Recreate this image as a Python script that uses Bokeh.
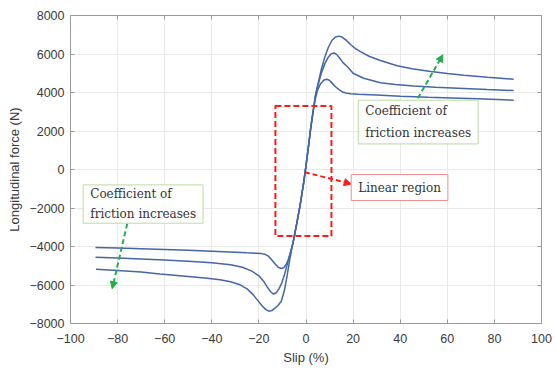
from bokeh.plotting import figure
from bokeh.models import (Range1d, LinearAxis, FixedTicker, Label, BoxAnnotation,
                          Arrow, NormalHead, CustomJSTickFormatter)
from bokeh.embed import file_html
from bokeh.resources import INLINE

# ---- data ----
x_ticks = [-100, -80, -60, -40, -20, 0, 20, 40, 60, 80, 100]
y_ticks = [-8000, -6000, -4000, -2000, 0, 2000, 4000, 6000, 8000]

slip_low = [-89.4, -80, -70, -60, -50, -40, -30, -25, -21, -19, -17.5, -16, -14.5, -13,
            -11.8, -10.5, -9.5, -8.5, -7.5, -6.5, -5.5, -4, -2.5, -1, 0, 1, 2, 3, 4,
            5, 6.2, 7.5, 8.8, 9.9, 11, 12.5, 14, 15.5, 17, 19, 22, 30, 40, 52, 62, 73, 88.2]
force_low = [-4050, -4080, -4120, -4160, -4200, -4250, -4300, -4330, -4350, -4370, -4400,
             -4500, -4700, -4920, -5080, -5140, -5100, -4950, -4680, -4300, -3800, -2850,
             -1850, -700, 200, 1150, 2150, 3000, 3700, 4150, 4460, 4640, 4690, 4640, 4500,
             4300, 4150, 4030, 3970, 3935, 3910, 3870, 3810, 3750, 3710, 3670, 3600]

slip_mid = [-89.4, -80, -70, -60, -50, -40, -32, -27, -23, -20, -18, -16.5, -15, -13.8,
            -12.6, -11.5, -10.3, -9, -7.8, -6.6, -5.5, -4, -2.5, -1, 0, 1, 2, 3, 4, 5,
            6.5, 8, 9.5, 10.8, 11.9, 13, 14.3, 15.7, 17.5, 20, 24.5, 31.6, 38, 45.7, 55,
            67, 77, 88.2]
force_mid = [-4560, -4600, -4650, -4700, -4770, -4850, -4950, -5080, -5280, -5520, -5800,
             -6100, -6350, -6470, -6400, -6200, -5900, -5400, -4850, -4300, -3800, -2850,
             -1850, -700, 200, 1150, 2150, 3000, 3800, 4350, 5000, 5500, 5850, 6020, 6050,
             5980, 5780, 5550, 5350, 5000, 4740, 4510, 4420, 4340, 4270, 4205, 4150, 4100]

slip_high = [-89.2, -80, -70, -62, -50, -42, -36.5, -32, -28, -25, -22.5, -20.5, -18.5,
             -17, -15.8, -14.5, -13.2, -12, -10.5, -9.2, -8, -6.8, -5.5, -4, -2.5, -1, 0,
             1, 2, 3, 4, 5, 6.5, 8, 9.5, 11, 12.5, 13.9, 15.3, 17, 19, 21, 23.5, 27, 31.6,
             38.7, 45, 53, 60, 67, 77, 88.2]
force_high = [-5180, -5250, -5330, -5430, -5560, -5650, -5725, -5830, -5990, -6200, -6500,
              -6800, -7100, -7280, -7360, -7330, -7200, -7080, -6840, -6300, -5500, -4600,
              -3800, -2850, -1850, -700, 200, 1150, 2150, 3000, 3850, 4400, 5200, 5850,
              6350, 6700, 6880, 6930, 6880, 6720, 6480, 6280, 6100, 5870, 5665, 5385, 5230,
              5090, 4990, 4900, 4790, 4690]

curve_color = "#4566a6"
frame_color = "#9a9a9a"

p = figure(width=555, height=368, output_backend="svg", toolbar_location=None,
           x_range=Range1d(-100, 100), y_range=Range1d(-8000, 8000),
           min_border_left=70, min_border_right=14, min_border_top=15,
           min_border_bottom=45, x_axis_label="Slip (%)",
           y_axis_label="Longitudinal force (N)")
p.background_fill_color = "white"
p.border_fill_color = "white"
p.outline_line_color = frame_color
p.outline_line_width = 1

for ax, ticks in ((p.xaxis[0], x_ticks), (p.yaxis[0], y_ticks)):
    ax.ticker = FixedTicker(ticks=ticks)
    ax.major_tick_in = 4
    ax.major_tick_out = 0
    ax.minor_tick_line_color = None
    ax.axis_line_color = frame_color
    ax.major_tick_line_color = frame_color
    ax.major_label_text_font = "Liberation Sans"
    ax.major_label_text_font_size = "12.5px"
    ax.major_label_text_color = "#3a3a3a"
    ax.axis_label_text_font = "Liberation Sans"
    ax.axis_label_text_font_size = "13px"
    ax.axis_label_text_font_style = "normal"
    ax.axis_label_text_color = "#3a3a3a"
p.xaxis.major_label_standoff = 10
p.xaxis.axis_label_standoff = 4
p.yaxis.major_label_standoff = 6
p.yaxis.axis_label_standoff = 4

for loc, ticks in (("right", y_ticks), ("above", x_ticks)):
    ax = LinearAxis(ticker=FixedTicker(ticks=ticks), major_tick_in=4, major_tick_out=0,
                    minor_tick_line_color=None, axis_line_color=frame_color,
                    major_tick_line_color=frame_color,
                    formatter=CustomJSTickFormatter(code="return ''"),
                    major_label_standoff=0)
    p.add_layout(ax, loc)

p.xgrid.ticker = FixedTicker(ticks=x_ticks)
p.ygrid.ticker = FixedTicker(ticks=y_ticks)
p.grid.grid_line_color = "#e9e9e9"
p.grid.grid_line_width = 1

for s, f in ((slip_low, force_low), (slip_mid, force_mid), (slip_high, force_high)):
    p.line(s, f, line_color=curve_color, line_width=1.5)

red = "#ff1a1a"
# red dashed box around the linear region
p.add_layout(BoxAnnotation(left=-13.0, right=10.8, bottom=-3450, top=3300,
                           fill_alpha=0, line_color=red, line_alpha=1, line_width=2,
                           line_dash="6 3"))

p.add_layout(Arrow(x_start=-0.5, y_start=-140, x_end=19.2, y_end=-750,
                   line_color=red, line_width=2, line_dash="5 3",
                   end=NormalHead(size=7, fill_color=red, line_color=red)))

green = "#22b04b"
for xs, ys, xe, ye in ((47.5, 3700, 58.1, 5960), (-75.9, -2810, -82.3, -6190)):
    p.add_layout(Arrow(x_start=xs, y_start=ys, x_end=xe, y_end=ye, line_color=green,
                       line_width=2, line_dash="5 3",
                       end=NormalHead(size=7, fill_color=green, line_color=green)))

def box_label(x, y, text, border, pad_v, line_h):
    return Label(x=x, y=y, text=text, anchor="top_left",
                 text_font="DejaVu Serif",
                 text_font_size="12px", text_color="#333333", text_line_height=line_h,
                 border_line_color=border, border_line_width=1,
                 background_fill_color="white",
                 padding=dict(left=7, right=7, top=pad_v, bottom=pad_v))

p.add_layout(box_label(22.2, 3600, "Coefficient of\nfriction increases", "#b8dca0", 4, 1.55))
p.add_layout(box_label(-94.6, -800, "Coefficient of\nfriction increases", "#b8dca0", 2, 1.45))
p.add_layout(box_label(19.2, -260, "Linear region", "#f09090", 6, 1.2))

open("out.html", "w").write(file_html(p, INLINE))
